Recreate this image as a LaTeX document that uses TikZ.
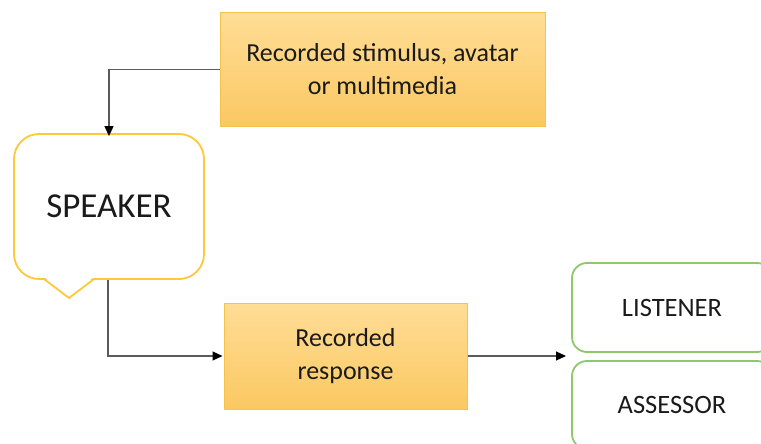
\documentclass[tikz,border=0pt]{standalone}
\usepackage{fontspec}
\setmainfont{Carlito}
\usetikzlibrary{arrows.meta}
\definecolor{boxtop}{HTML}{FFDD96}
\definecolor{boxbot}{HTML}{FBC862}
\definecolor{boxline}{HTML}{F5C24A}
\definecolor{spkline}{HTML}{FFC83A}
\definecolor{grn}{HTML}{8DC96B}
\definecolor{conn}{HTML}{5A5A5A}
\definecolor{txt}{HTML}{1A1A1A}
\tikzset{
  orangebox/.style={draw=boxline, line width=1pt, top color=boxtop, bottom color=boxbot,
    align=center, text=txt, font=\fontsize{26}{33}\selectfont, inner sep=0pt},
  greenbox/.style={draw=grn, line width=1.8pt, rounded corners=15pt, fill=white,
    text=txt, font=\fontsize{26.5}{32}\selectfont, inner sep=0pt},
  speakerbox/.style={draw=spkline, line width=1.8pt, rounded corners=25pt, fill=white,
    text=txt, font=\fontsize{35}{40}\selectfont, inner sep=0pt},
  conline/.style={draw=conn, line width=1.2pt, -{Triangle[length=10pt,width=9pt,color=black]}}
}
\begin{document}
\begin{tikzpicture}[x=1pt,y=-1pt]
\useasboundingbox (0,0) rectangle (761,444);
\clip (0,0) rectangle (761,444);
\node[orangebox, minimum width=325pt, minimum height=113pt] (top) at (382.5,69.5)
  {Recorded stimulus, avatar\\or multimedia};
\node[speakerbox, minimum width=190pt, minimum height=145pt] (speaker) at (109,206.5) {SPEAKER};
% callout tail
\fill[white] (44,277) -- (94,277) -- (69,296.5) -- cycle;
\draw[spkline, line width=1.8pt, line join=miter] (44,279) -- (69,298) -- (94,279);
\node[orangebox, minimum width=243pt, minimum height=106pt] (resp) at (345.5,356)
  {Recorded\\response};
\node[greenbox, minimum width=200pt, minimum height=89pt] (listener) at (672,307.5) {LISTENER};
\node[greenbox, minimum width=200pt, minimum height=88pt] (assessor) at (672,405) {ASSESSOR};
\coordinate (gap) at (566,356);
\draw[conline] (top.west) -| ([yshift=-3pt]speaker.north);
\draw[conline] ([xshift=-1pt]speaker.south) |- ([xshift=-1pt]resp.west);
\draw[conline] (resp.east) -- (resp.east -| gap);
\end{tikzpicture}
\end{document}
